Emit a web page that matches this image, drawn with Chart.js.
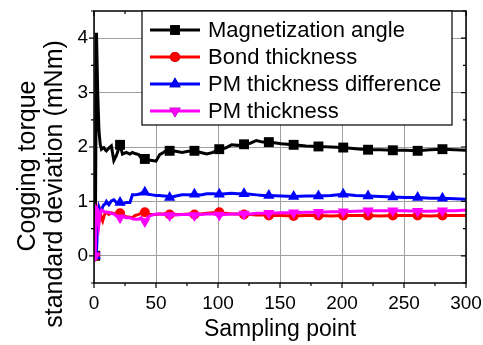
<!DOCTYPE html>
<html>
<head>
<meta charset="utf-8">
<script src="https://cdn.jsdelivr.net/npm/chart.js@4/dist/chart.umd.min.js"></script>
<style>
  html, body { margin: 0; padding: 0; background: #fff; }
  #wrap { width: 483px; height: 345px; }
</style>
</head>
<body>
<div id="wrap"><canvas id="chart" width="483" height="345"></canvas></div>
<script>
// ---- Data ----
const samplePoints = [1, 2, 3, 4, 5, 6, 7, 8, 9, 10, 12, 14, 16, 18, 21, 23, 26, 29, 31, 33, 36, 38, 41, 44, 47, 50, 53, 56, 58,
  61, 66, 71, 76, 81, 86, 91, 96, 101, 106, 111, 116, 121, 126, 131, 136, 141, 151, 161, 171, 181, 191, 201, 211, 221, 231,
  241, 251, 261, 271, 281, 291, 300];

const magnetizationAngle = [0, 4.1, 3.0, 2.3, 2.05, 1.96, 1.98, 1.99, 1.95, 1.93, 1.98, 2.02, 1.75, 1.84, 2.04, 1.87, 1.9, 1.87,
  1.9, 1.88, 1.86, 1.8, 1.78, 1.76, 1.75, 1.74, 1.86, 1.9, 1.93, 1.93, 1.92, 1.9, 1.92, 1.93, 1.9, 1.87, 1.9, 1.96, 1.98, 2.04,
  2.03, 2.05, 2.07, 2.12, 2.09, 2.09, 2.06, 2.04, 2.02, 2.01, 2.0, 1.99, 1.97, 1.95, 1.95, 1.94, 1.94, 1.93, 1.95, 1.96, 1.95, 1.94];

const bondThickness = [0, 0.3, 0.75, 0.62, 0.8, 0.7, 0.64, 0.72, 0.79, 0.8, 0.76, 0.79, 0.78, 0.76, 0.78, 0.73, 0.72, 0.71,
  0.7, 0.74, 0.76, 0.78, 0.8, 0.76, 0.76, 0.76, 0.77, 0.77, 0.78, 0.76, 0.76, 0.76, 0.77, 0.76, 0.77, 0.78, 0.79, 0.8, 0.78, 0.77,
  0.77, 0.76, 0.76, 0.75, 0.75, 0.74, 0.74, 0.73, 0.74, 0.74, 0.73, 0.74, 0.74, 0.74, 0.73, 0.74, 0.74, 0.74, 0.73, 0.74, 0.74, 0.74];

const pmThicknessDiff = [0, 0.05, 0.7, 0.88, 0.8, 0.82, 0.9, 0.94, 0.95, 1.0, 0.94, 1.01, 1.03, 0.98, 0.98, 0.95, 0.98, 0.98,
  1.12, 1.12, 1.13, 1.15, 1.17, 1.13, 1.12, 1.11, 1.11, 1.1, 1.1, 1.07, 1.1, 1.12, 1.12, 1.13, 1.12, 1.14, 1.14, 1.13, 1.14, 1.15,
  1.14, 1.14, 1.13, 1.12, 1.11, 1.11, 1.1, 1.09, 1.1, 1.1, 1.11, 1.13, 1.11, 1.1, 1.09, 1.08, 1.07, 1.07, 1.06, 1.06, 1.05, 1.04];

const pmThickness = [0, 0.88, 0.85, 0.6, 0.8, 0.84, 0.82, 0.82, 0.8, 0.8, 0.8, 0.78, 0.77, 0.73, 0.7, 0.72, 0.7, 0.7,
  0.68, 0.67, 0.67, 0.7, 0.63, 0.72, 0.75, 0.77, 0.77, 0.76, 0.76, 0.74, 0.75, 0.76, 0.76, 0.74, 0.76, 0.77, 0.77, 0.75, 0.76, 0.77,
  0.77, 0.77, 0.77, 0.78, 0.78, 0.78, 0.79, 0.79, 0.8, 0.8, 0.81, 0.81, 0.82, 0.83, 0.83, 0.83, 0.83, 0.82, 0.82, 0.83, 0.83, 0.84];

const xTicks = [0, 50, 100, 150, 200, 250, 300];
const yTicks = [0, 1, 2, 3, 4];
const seriesNames = ["Magnetization angle", "Bond thickness", "PM thickness difference", "PM thickness"];
const xTitle = "Sampling point";
const yTitle = ["Cogging torque", "standard deviation (mNm)"];

const toPoints = ys => samplePoints.map((x, i) => ({ x: x, y: ys[i] }));

// markers only on every 20th sampling point (1, 21, 41, ...)
const markerEvery = r => ctx => (ctx.raw && (ctx.raw.x - 1) % 20 === 0) ? r : 0;

const styles = [
  { color: "#000000", shape: "rect", r: 7, rot: 0 },
  { color: "#ff0000", shape: "circle", r: 5, rot: 0 },
  { color: "#0000ff", shape: "triangle", r: 6.5, rot: 0 },
  { color: "#ff00ff", shape: "triangle", r: 6.5, rot: 180 }
];
const seriesData = [magnetizationAngle, bondThickness, pmThicknessDiff, pmThickness];
const drawOrder = [3, 2, 1, 0];

const datasets = seriesData.map((ys, i) => ({
  label: seriesNames[i],
  data: toPoints(ys),
  borderColor: styles[i].color,
  backgroundColor: styles[i].color,
  borderWidth: 3,
  pointStyle: styles[i].shape,
  pointRotation: styles[i].rot,
  pointRadius: markerEvery(styles[i].r),
  pointBorderWidth: 0,
  tension: 0,
  order: drawOrder[i]
}));

// ---- frame, minor ticks, legend box, y title ----
const decor = {
  id: "decor",
  afterDraw(chart) {
    const ctx = chart.ctx;
    const a = chart.chartArea;
    const xs = chart.scales.x, ys = chart.scales.y;
    ctx.save();
    ctx.strokeStyle = "#000";
    ctx.lineWidth = 1.5;
    ctx.strokeRect(a.left, a.top, a.right - a.left, a.bottom - a.top);

    ctx.lineWidth = 1.2;
    ctx.beginPath();
    for (let v = 0; v <= 300; v += 25) {
      const px = xs.getPixelForValue(v);
      const len = v % 50 === 0 ? 5 : 3;
      ctx.moveTo(px, a.bottom); ctx.lineTo(px, a.bottom + len);
      ctx.moveTo(px, a.top); ctx.lineTo(px, a.top + len);
    }
    for (let v = -0.5; v <= 4.5; v += 0.5) {
      const py = ys.getPixelForValue(v);
      const len = Number.isInteger(v) ? 5 : 3;
      ctx.moveTo(a.left, py); ctx.lineTo(a.left - len, py);
      ctx.moveTo(a.right, py); ctx.lineTo(a.right - len, py);
    }
    ctx.stroke();

    // legend
    const box = { l: 142, t: 11, r: 452, b: 125 };
    ctx.fillStyle = "#fff";
    ctx.fillRect(box.l, box.t, box.r - box.l, box.b - box.t);
    ctx.lineWidth = 1.2;
    ctx.strokeRect(box.l, box.t, box.r - box.l, box.b - box.t);
    const rows = [30, 57, 84, 111];
    ctx.font = "22px 'Liberation Sans', Arial, sans-serif";
    ctx.textBaseline = "middle";
    ctx.textAlign = "left";
    chart.data.datasets.forEach((ds, i) => {
      const y = rows[i];
      const st = styles[i];
      ctx.strokeStyle = st.color;
      ctx.lineWidth = 3;
      ctx.beginPath(); ctx.moveTo(150, y); ctx.lineTo(200, y); ctx.stroke();
      Chart.helpers.drawPoint(ctx, { pointStyle: st.shape, rotation: st.rot, radius: st.r, borderWidth: 0 }, 175, y);
      ctx.fillStyle = st.color;
      ctx.fill();
      ctx.fillStyle = "#000";
      ctx.fillText(ds.label, 208, y + 1);
    });

    // y axis title, two rotated lines
    ctx.fillStyle = "#000";
    ctx.font = "25px 'Liberation Sans', Arial, sans-serif";
    ctx.textAlign = "center";
    ctx.textBaseline = "middle";
    [[28, 166], [55, 184]].forEach((p, i) => {
      ctx.save();
      ctx.translate(p[0], p[1]);
      ctx.rotate(-Math.PI / 2);
      ctx.fillText(yTitle[i], 0, 0);
      ctx.restore();
    });
    ctx.restore();
  }
};

new Chart(document.getElementById("chart"), {
  type: "line",
  data: { datasets: datasets },
  options: {
    responsive: false,
    animation: false,
    layout: { padding: { left: 0, right: 17, top: 11, bottom: 0 } },
    plugins: { legend: { display: false }, tooltip: { enabled: false } },
    scales: {
      x: {
        type: "linear",
        min: 0,
        max: 300,
        afterBuildTicks: s => { s.ticks = xTicks.map(v => ({ value: v })); },
        afterFit: s => { s.height = 62; s.paddingLeft = 0; s.paddingRight = 0; },
        grid: { color: "#a0a0a0", lineWidth: 1, drawTicks: false },
        border: { display: false },
        ticks: { color: "#000", padding: 9, maxRotation: 0, font: { family: "'Liberation Sans', Arial", size: 19 } },
        title: {
          display: true,
          text: xTitle,
          color: "#000",
          padding: { top: 0, bottom: 2 },
          font: { family: "'Liberation Sans', Arial", size: 23 }
        }
      },
      y: {
        min: -0.5,
        max: 4.5,
        afterBuildTicks: s => { s.ticks = yTicks.map(v => ({ value: v })); },
        afterFit: s => { s.width = 94; s.paddingTop = 0; s.paddingBottom = 0; },
        grid: { color: "#a0a0a0", lineWidth: 1, drawTicks: false },
        border: { display: false },
        ticks: { color: "#000", padding: 6, font: { family: "'Liberation Sans', Arial", size: 19 } }
      }
    }
  },
  plugins: [decor]
});
</script>
</body>
</html>
